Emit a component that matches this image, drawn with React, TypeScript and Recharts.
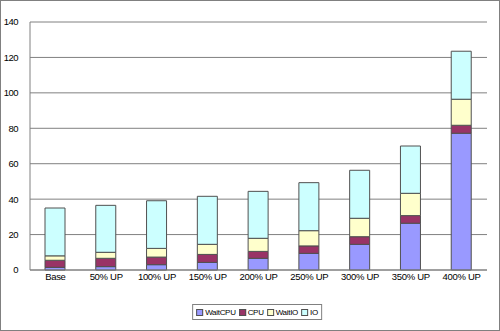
import React from 'react'
import { BarChart, Bar, XAxis, YAxis, CartesianGrid } from 'recharts'

const categories = ['Base', '50% UP', '100% UP', '150% UP', '200% UP', '250% UP', '300% UP', '350% UP', '400% UP']
const waitCpu = [1.5, 1.9, 3.0, 4.3, 6.6, 9.4, 14.5, 26.4, 77.2]
const cpu = [4.0, 4.7, 4.3, 4.5, 3.9, 4.2, 4.3, 4.3, 4.5]
const waitIo = [2.5, 3.4, 4.9, 5.7, 7.4, 8.6, 10.4, 12.6, 14.7]
const io = [27.0, 26.5, 26.9, 27.1, 26.5, 27.1, 27.1, 26.7, 27.1]
const yTicks = [0, 20, 40, 60, 80, 100, 120, 140]

const series = [
  { key: 'WaitCPU', color: '#9999ff', values: waitCpu },
  { key: 'CPU', color: '#993366', values: cpu },
  { key: 'WaitIO', color: '#ffffcc', values: waitIo },
  { key: 'IO', color: '#ccffff', values: io },
]

const data = categories.map((name, i) => {
  const row: any = { name }
  series.forEach(s => { row[s.key] = s.values[i] })
  return row
})

const font = '"Liberation Sans", Arial, sans-serif'

export default function App() {
  return (
    <div style={{ position: 'absolute', left: 0, top: 0, width: 500, height: 331, background: '#fff', fontFamily: font }}>
      <BarChart width={500} height={331} data={data} margin={{ top: 22, right: 13, left: 0, bottom: 0 }} barSize={20}>
        <CartesianGrid vertical={false} stroke="#808080" strokeWidth={1} />
        <XAxis
          dataKey="name"
          height={61}
          axisLine={{ stroke: '#808080' }}
          tickLine={false}
          tickSize={0}
          tickMargin={3}
          interval={0}
          tick={{ fontSize: 9.5, fill: '#000', fontFamily: font, letterSpacing: -0.3 }}
        />
        <YAxis
          width={30}
          domain={[0, 140]}
          ticks={yTicks}
          axisLine={{ stroke: '#808080' }}
          tickLine={false}
          tickMargin={6}
          tick={{ fontSize: 9.5, fill: '#000', fontFamily: font, letterSpacing: -0.5 }}
        />
        <YAxis
          yAxisId="r"
          orientation="right"
          width={0}
          tick={false}
          tickLine={false}
          axisLine={{ stroke: '#808080' }}
        />
        {series.map(s => (
          <Bar
            key={s.key}
            dataKey={s.key}
            stackId="a"
            fill={s.color}
            stroke="#505050"
            strokeWidth={1}
            isAnimationActive={false}
          />
        ))}
      </BarChart>
      <div style={{
        position: 'absolute', left: 257, top: 304, height: 16, transform: 'translateX(-50%)', boxSizing: 'border-box',
        border: '1px solid #808080', display: 'flex', alignItems: 'center', padding: '0 3px',
        fontSize: 8, letterSpacing: -0.3, color: '#000', gap: 3, whiteSpace: 'nowrap'
      }}>
        {series.map(s => (
          <span key={s.key} style={{ display: 'flex', alignItems: 'center', gap: 2 }}>
            <span style={{ width: 5, height: 5, background: s.color, border: '1px solid #505050', display: 'inline-block' }} />
            {s.key}
          </span>
        ))}
      </div>
      <div style={{ position: 'absolute', left: 0, top: 0, width: 500, height: 331, boxSizing: 'border-box', border: '1px solid #808080', pointerEvents: 'none' }} />
    </div>
  )
}
